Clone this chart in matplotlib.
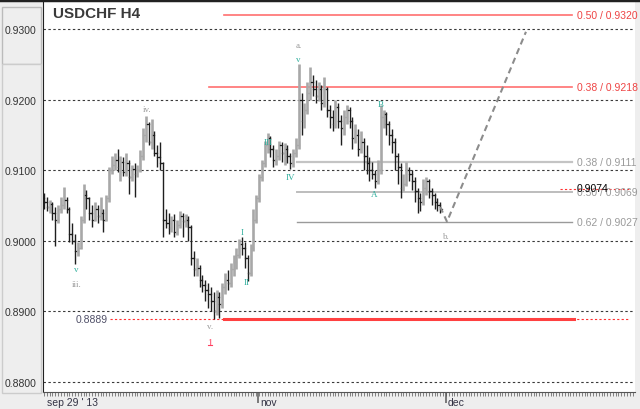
import matplotlib
matplotlib.use("Agg")
import matplotlib.pyplot as plt
from matplotlib.patches import Rectangle
from matplotlib.lines import Line2D
import matplotlib.transforms as mtransforms

plt.rcParams['font.family'] = ['Liberation Sans', 'DejaVu Sans']

# USDCHF H4 bars, prices in pips (0.9060 -> 9060)
opens = [9060, 9055, 9048, 9052, 9040, 9030, 9045, 9050, 9058, 9045,
         9010, 9000, 8985, 8990, 9030, 9065, 9060, 9040, 9030, 9045,
         9035, 9040, 9030, 9060, 9100, 9108, 9115, 9105, 9112, 9098,
         9110, 9090, 9102, 9095, 9100, 9120, 9150, 9165, 9140, 9150,
         9125, 9118, 9110, 9030, 9025, 9018, 9030, 9012, 9022, 9035,
         9028, 9030, 9020, 8975, 8960, 8962, 8945, 8938, 8930, 8925,
         8915, 8900, 8920, 8910, 8935, 8945, 8940, 8960, 8970, 8980,
         8995, 8990, 8975, 8955, 8990, 9030, 9060, 9090, 9110, 9135,
         9145, 9130, 9115, 9120, 9135, 9125, 9130, 9120, 9110, 9125,
         9135, 9200, 9170, 9185, 9210, 9225, 9215, 9205, 9215, 9195,
         9215, 9185, 9175, 9165, 9190, 9170, 9160, 9175, 9185, 9170,
         9145, 9150, 9130, 9140, 9120, 9110, 9100, 9095, 9085, 9100,
         9175, 9180, 9165, 9150, 9140, 9120, 9105, 9075, 9080, 9100,
         9095, 9085, 9070, 9060, 9055, 9075, 9085, 9070, 9065, 9055,
         9050]
highs = [9068, 9062, 9058, 9055, 9048, 9050, 9062, 9076, 9062, 9048,
         9025, 9010, 8998, 9035, 9080, 9072, 9062, 9050, 9055, 9050,
         9062, 9045, 9065, 9105, 9120, 9125, 9130, 9120, 9118, 9125,
         9115, 9108, 9110, 9108, 9128, 9160, 9177, 9168, 9172, 9155,
         9135, 9140, 9112, 9045, 9040, 9035, 9038, 9030, 9042, 9040,
         9038, 9035, 9022, 8985, 8975, 8965, 8952, 8945, 8940, 8935,
         8928, 8930, 8928, 8940, 8955, 8958, 8968, 8980, 8990, 9002,
         9005, 8998, 8980, 8995, 9045, 9065, 9095, 9115, 9142, 9152,
         9148, 9135, 9130, 9142, 9140, 9138, 9135, 9125, 9130, 9145,
         9250, 9210, 9195, 9225, 9246, 9235, 9228, 9225, 9220, 9232,
         9218, 9192, 9185, 9200, 9195, 9178, 9185, 9192, 9190, 9175,
         9165, 9158, 9155, 9145, 9135, 9118, 9112, 9100, 9115, 9192,
         9185, 9182, 9170, 9158, 9145, 9125, 9110, 9095, 9112, 9105,
         9100, 9090, 9075, 9068, 9088, 9090, 9088, 9075, 9068, 9060,
         9055]
lows = [9045, 9042, 9040, 9030, 8992, 9025, 9040, 9045, 9040, 8998,
        8995, 8967, 8978, 8988, 9025, 9045, 9030, 9020, 9028, 9025,
        9030, 9012, 9028, 9055, 9095, 9100, 9098, 9085, 9092, 9092,
        9066, 9085, 9062, 9090, 9098, 9115, 9140, 9135, 9130, 9120,
        9105, 9100, 9006, 9018, 9010, 9012, 9005, 9008, 9018, 9005,
        9020, 9000, 8965, 8950, 8950, 8935, 8928, 8915, 8905, 8900,
        8889, 8895, 8890, 8905, 8925, 8930, 8935, 8950, 8960, 8975,
        8980, 8962, 8943, 8950, 8985, 9025, 9055, 9085, 9105, 9125,
        9118, 9105, 9108, 9115, 9112, 9108, 9110, 9102, 9105, 9118,
        9130, 9150, 9160, 9180, 9200, 9205, 9195, 9198, 9185, 9190,
        9175, 9160, 9155, 9160, 9160, 9135, 9150, 9165, 9160, 9130,
        9138, 9120, 9125, 9100, 9095, 9085, 9088, 9075, 9080, 9095,
        9160, 9150, 9135, 9125, 9100, 9080, 9060, 9070, 9078, 9085,
        9072, 9055, 9040, 9042, 9050, 9065, 9060, 9050, 9045, 9042,
        9040]
closes = [9055, 9048, 9052, 9040, 9030, 9045, 9050, 9058, 9045, 9010,
          9000, 8985, 8990, 9030, 9065, 9060, 9040, 9030, 9045, 9035,
          9040, 9030, 9060, 9100, 9108, 9115, 9105, 9112, 9098, 9110,
          9090, 9102, 9095, 9100, 9120, 9150, 9165, 9140, 9150, 9125,
          9118, 9110, 9030, 9025, 9018, 9030, 9012, 9022, 9035, 9028,
          9030, 9020, 8975, 8960, 8962, 8945, 8938, 8930, 8925, 8915,
          8900, 8920, 8910, 8935, 8945, 8940, 8960, 8970, 8980, 8995,
          8990, 8975, 8955, 8990, 9030, 9060, 9090, 9110, 9135, 9145,
          9130, 9115, 9120, 9135, 9125, 9130, 9120, 9110, 9125, 9135,
          9200, 9170, 9185, 9210, 9225, 9215, 9205, 9215, 9195, 9215,
          9185, 9175, 9165, 9190, 9170, 9160, 9175, 9185, 9170, 9145,
          9150, 9130, 9140, 9120, 9110, 9100, 9095, 9085, 9100, 9175,
          9180, 9165, 9150, 9140, 9120, 9105, 9075, 9080, 9100, 9095,
          9085, 9070, 9060, 9055, 9075, 9085, 9070, 9065, 9055, 9050,
          9045]

# projected path (bar index, price)
proj_x = [140, 142.4, 170.3]
proj_y = [0.9048, 0.9027, 0.9296]

red_levels = [("0.50 / 0.9320", 0.9320, 63.6), ("0.38 / 0.9218", 0.9218, 58.3)]
gray_levels = [("0.38 / 0.9111", 0.9111, '#c4c4c4', 1.6),
               ("0.50 / 0.9069", 0.9069, '#bdbdbd', 1.4),
               ("0.62 / 0.9027", 0.9027, '#9a9a9a', 1.0)]
low_level = 0.8889
last_price = 0.9074

yticks = [0.88, 0.89, 0.90, 0.91, 0.92, 0.93]

W, H = 640, 410
fig = plt.figure(figsize=(6.4, 4.1), dpi=100, facecolor='#eeeeee')
ax = fig.add_axes([43 / W, 17 / H, 592 / W, 390 / H])
ax.set_facecolor('white')


def px(xp):
    return (xp - 44) / 2.83


ax.set_xlim(px(43), px(635))
ax.set_ylim(0.87858, 0.93382)

# grid
for yv in yticks:
    ax.axhline(yv, color='#3a3a3a', lw=0.8, dashes=(2.2, 2.2), zorder=1)

# bars
for i in range(len(closes)):
    o, h, l, c = opens[i] / 1e4, highs[i] / 1e4, lows[i] / 1e4, closes[i] / 1e4
    if c >= o:
        col, lw = '#a8a8a8', 1.9
    else:
        col, lw = '#1e1e1e', 1.0
    ax.plot([i, i], [l, h], color=col, lw=lw, solid_capstyle='butt', zorder=3)
    ax.plot([i - 0.5, i], [o, o], color=col, lw=0.9, zorder=3)
    ax.plot([i, i + 0.5], [c, c], color=col, lw=0.9, zorder=3)

# fibonacci levels
for lab, yv, x0 in red_levels:
    ax.plot([x0, px(572)], [yv, yv], color='#ff6f6f', lw=1.2, zorder=2)
    ax.text(px(577), yv, lab, color='#ee4444', fontsize=7.5, va='center', ha='left')
for lab, yv, col, lw in gray_levels:
    ax.plot([px(297), px(572)], [yv, yv], color=col, lw=lw, zorder=2)
    ax.text(px(577), yv, lab, color='#9a9a9a', fontsize=7.5, va='center', ha='left')

ax.plot([px(110), px(630)], [low_level, low_level], color='#ff3030', lw=0.8,
        dashes=(2, 2), zorder=2)
ax.plot([px(224), px(574)], [low_level, low_level], color='#ff4040', lw=2.2, zorder=2)
ax.text(px(108), low_level, "0.8889", color='#505068', fontsize=7.5, va='center', ha='right')

ax.plot([px(560), px(630)], [last_price, last_price], color='#ff3030', lw=0.8,
        dashes=(2, 2), zorder=2)
ax.text(px(577), last_price + 0.0001, "0.9074", color='black', fontsize=7.5,
        va='center', ha='left', zorder=6)

# projection
ax.plot(proj_x, proj_y, color='#8c8c8c', lw=1.5, dashes=(3, 2), zorder=4)

# wave labels
teal = '#2fae9c'
gray = '#9a9a9a'
wave = [("v", 11.5, 0.8960, teal), ("iii.", 11.6, 0.8939, gray),
        ("iv.", 36.4, 0.9187, gray), ("v.", 58.7, 0.8879, gray),
        ("I", 69.9, 0.9012, teal), ("II", 71.7, 0.8941, teal),
        ("III", 79.2, 0.9140, teal), ("IV", 86.9, 0.9091, teal),
        ("v", 89.7, 0.9258, teal), ("a.", 90.1, 0.9278, gray),
        ("A", 116.6, 0.9066, teal), ("B", 119.1, 0.9194, teal),
        ("b.", 142.0, 0.9007, gray)]
for lab, xv, yv, col in wave:
    ax.text(xv, yv, lab, color=col, fontsize=6.5, ha='center', va='center',
            family=['Liberation Serif', 'DejaVu Serif'])
ax.text(58.7, 0.8856, "1", color='#ff4060', fontsize=7.5, ha='center', va='center',
        family=['Liberation Serif', 'DejaVu Serif'])
ax.plot([58.0, 59.4], [0.8852, 0.8852], color='#ff4060', lw=0.8)

# title
ax.text(px(53), 0.9322, "USDCHF H4", fontsize=11, fontweight='bold', color='#3a3a3a',
        ha='left', va='center')

# axes styling
for s in ['top', 'right']:
    ax.spines[s].set_visible(False)
ax.spines['left'].set_color('#222222')
ax.spines['bottom'].set_color('#555555')
ax.set_yticks(yticks)
ax.set_yticklabels(["%.4f" % v for v in yticks], fontsize=7.5, color='#333333')
ax.tick_params(axis='y', length=0, pad=5)
ax.set_xticks([px(258), px(446)])
ax.set_xticklabels([])
ax.tick_params(axis='x', which='major', length=8, width=1.2, color='#666666')
ax.set_xticks([v * 1.0 for v in range(0, 209)], minor=True)
ax.tick_params(axis='x', which='minor', length=3, width=0.5, color='#555555')

tr = mtransforms.blended_transform_factory(ax.transData, fig.transFigure)
ax.text(px(47), 7 / H, "sep 29 ' 13", fontsize=7.5, color='#333344', transform=tr,
        ha='left', va='center')
ax.text(px(260), 7 / H, "nov", fontsize=7.5, color='#333344', transform=tr,
        ha='left', va='center')
ax.text(px(448), 7 / H, "dec", fontsize=7.5, color='#333344', transform=tr,
        ha='left', va='center')

# left panel decoration (behind the axes) and top border
fig.patches.append(Rectangle((2 / W, 345 / H), 39 / W, 57 / H, transform=fig.transFigure,
                             facecolor='#eeeeee', edgecolor='#bbbbbb', lw=1, zorder=-5))
fig.patches.append(Rectangle((2 / W, 16 / H), 39 / W, 329 / H, transform=fig.transFigure,
                             facecolor='#eeeeee', edgecolor='#cccccc', lw=1, zorder=-5))
fig.lines.append(Line2D([0, 1], [1 - 1 / H, 1 - 1 / H], transform=fig.transFigure,
                        color='#222222', lw=2.5))

fig.savefig("out.png", dpi=100, facecolor=fig.get_facecolor())
